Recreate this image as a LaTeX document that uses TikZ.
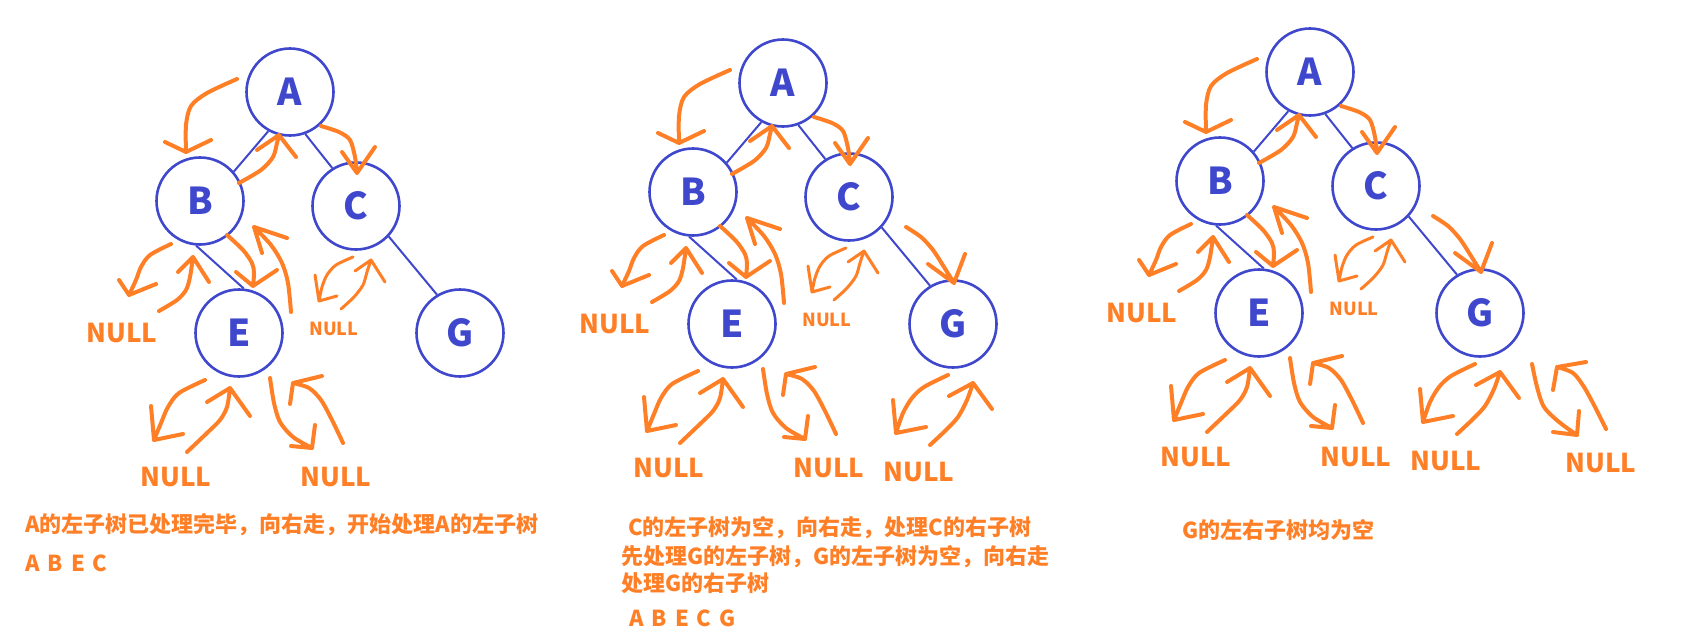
\documentclass[tikz,border=0pt]{standalone}
\usepackage{fontspec}
\setmainfont{Noto Sans CJK SC}
\definecolor{baumblau}{RGB}{63,72,204}
\definecolor{wegorange}{RGB}{255,127,39}
\tikzset{
	knoten/.style={circle, draw=baumblau, line width=2.6pt, minimum size=87pt,
	inner sep=0pt, text=baumblau, font=\fontsize{37}{37}\selectfont\bfseries},
	kante/.style={draw=baumblau, line width=2pt},
	weg/.style={draw=wegorange, line width=4pt, line cap=round, line join=round},
	wegklein/.style={weg, line width=3pt},
	nulltext/.style={text=wegorange, inner sep=0pt,
	font=\fontsize{26}{26}\selectfont\bfseries},
	nullklein/.style={text=wegorange, inner sep=0pt,
	font=\fontsize{18}{18}\selectfont\bfseries},
	notiz/.style={text=wegorange, anchor=west, inner sep=0pt,
	font=\fontsize{22}{22}\selectfont\bfseries}
}
\begin{document}
\begin{tikzpicture}[x=1pt, y=-1pt]
	\useasboundingbox (0,0) rectangle (1693,634);
	% drei Bilder mit demselben Baum
	\foreach \dx/\dy/\n in {0/0/1, 493/-9/2, 1020/-20/3} {
		\begin{scope}[shift={(\dx,\dy)}]
			% Knoten
			\node[knoten] (A\n) at (290,92) {A};
			\node[knoten] (B\n) at (200,201) {B};
			\node[knoten] (C\n) at (356,206) {C};
			\node[knoten] (E\n) at (239,333) {E};
			\node[knoten] (G\n) at (460,333) {G};
			% Kanten
			\draw[kante] (A\n.-119) -- (B\n.41);
			\draw[kante] (A\n.-70) -- (C\n.122);
			\draw[kante] (B\n.-95) -- (E\n.84);
			\draw[kante] (C\n.-43) -- (G\n.121);
			% NULL-Blaetter
			\node[nulltext] (nullB\n) at (122,333) {NULL};
			\node[nullklein] (nullC\n) at (334,329) {NULL};
			\node[nulltext] (nullEl\n) at (176,477) {NULL};
			\node[nulltext] (nullEr\n) at (336,477) {NULL};
			% Wege um A und B
			\draw[weg] plot[smooth] coordinates {(237,79) (207,93) (191,106) (186,125) (186,152)}
				(165,142) -- (186,152) -- (211,140);
			\draw[weg] plot[smooth] coordinates {(239,183) (261,170) (273,157) (277,143) (279,135)}
				(257,150) -- (279,135) -- (296,157);
			\draw[weg] plot[smooth] coordinates {(321,126) (339,132) (350,140) (355,157) (357,173)}
				(342,152) -- (357,173) -- (375,147);
			\draw[weg] plot[smooth] coordinates {(171,244) (150,255) (141,267) (136,280) (129,295)}
				(119,280) -- (129,295) -- (156,284);
			\draw[weg] plot[smooth] coordinates {(159,311) (177,300) (186,290) (190,277) (193,257)}
				(178,272) -- (193,257) -- (209,282);
			\draw[weg] plot[smooth] coordinates {(227,235) (243,250) (252,263) (254,273) (253,286)}
				(236,272) -- (253,286) -- (277,270);
			\draw[weg] plot[smooth] coordinates {(291,312) (288,283) (282,263) (271,245) (254,227)}
				(262,253) -- (254,227) -- (287,238);
			% Wege unter C
			\draw[wegklein] plot[smooth] coordinates {(353,257) (336,265) (327,275) (322,287) (319,301)}
				(315,275) -- (319,301) -- (337,296);
			\draw[wegklein] plot[smooth] coordinates {(341,309) (354,297) (363,285) (367,272) (371,260)}
				(355,271) -- (371,260) -- (385,282);
			% Wege unter E
			\draw[weg] plot[smooth] coordinates {(205,380) (179,393) (168,407) (161,423) (154,440)}
				(151,406) -- (154,440) -- (183,434);
			\draw[weg] plot[smooth] coordinates {(187,452) (207,433) (220,420) (227,407) (230,388)}
				(207,402) -- (230,388) -- (250,416);
			\draw[weg] plot[smooth] coordinates {(270,378) (274,403) (280,422) (293,437) (312,448)}
				(291,446) -- (312,448) -- (315,425);
			\draw[weg] plot[smooth] coordinates {(343,443) (332,420) (321,400) (309,388) (293,383)}
				(290,404) -- (293,383) -- (322,376);
		\end{scope}
	}
	% C nach G und linker Teil von G
	\foreach \dx/\dy/\n in {493/-9/2, 1020/-20/3} {
		\begin{scope}[shift={(\dx,\dy)}]
			\node[nulltext] (nullGl\n) at (426,481) {NULL};
			\draw[weg] plot[smooth] coordinates {(413,236) (428,246) (440,259) (451,276) (461,292)}
				(435,273) -- (461,292) -- (472,263);
			\draw[weg] plot[smooth] coordinates {(455,384) (431,396) (419,407) (410,422) (403,442)}
				(400,409) -- (403,442) -- (433,436);
			\draw[weg] plot[smooth] coordinates {(437,454) (453,439) (465,426) (474,409) (480,392)}
				(456,405) -- (480,392) -- (499,418);
		\end{scope}
	}
	% rechter Teil von G
	\begin{scope}[shift={(1020,-20)}]
		\node[nulltext] (nullGr3) at (581,483) {NULL};
		\draw[weg] plot[smooth] coordinates {(512,384) (517,407) (524,427) (539,442) (557,455)}
			(533,452) -- (557,455) -- (559,431);
		\draw[weg] plot[smooth] coordinates {(586,449) (575,427) (564,407) (553,393) (537,387)}
			(533,410) -- (537,387) -- (566,382);
	\end{scope}
	% Beschreibungen
	\node[notiz] (notiz1) at (25,525) {A的左子树已处理完毕，向右走，开始处理A的左子树};
	\node[notiz] (folge1) at (25,563) {\spaceskip=8pt A B E C};
	\node[notiz] (notiz2a) at (628,528) {C的左子树为空，向右走，处理C的右子树};
	\node[notiz] (notiz2b) at (621,557) {先处理G的左子树，G的左子树为空，向右走};
	\node[notiz] (notiz2c) at (621,583) {处理G的右子树};
	\node[notiz] (folge2) at (629,618) {\spaceskip=8pt A B E C G};
	\node[notiz] (notiz3) at (1182,530) {G的左右子树均为空};
\end{tikzpicture}
\end{document}
